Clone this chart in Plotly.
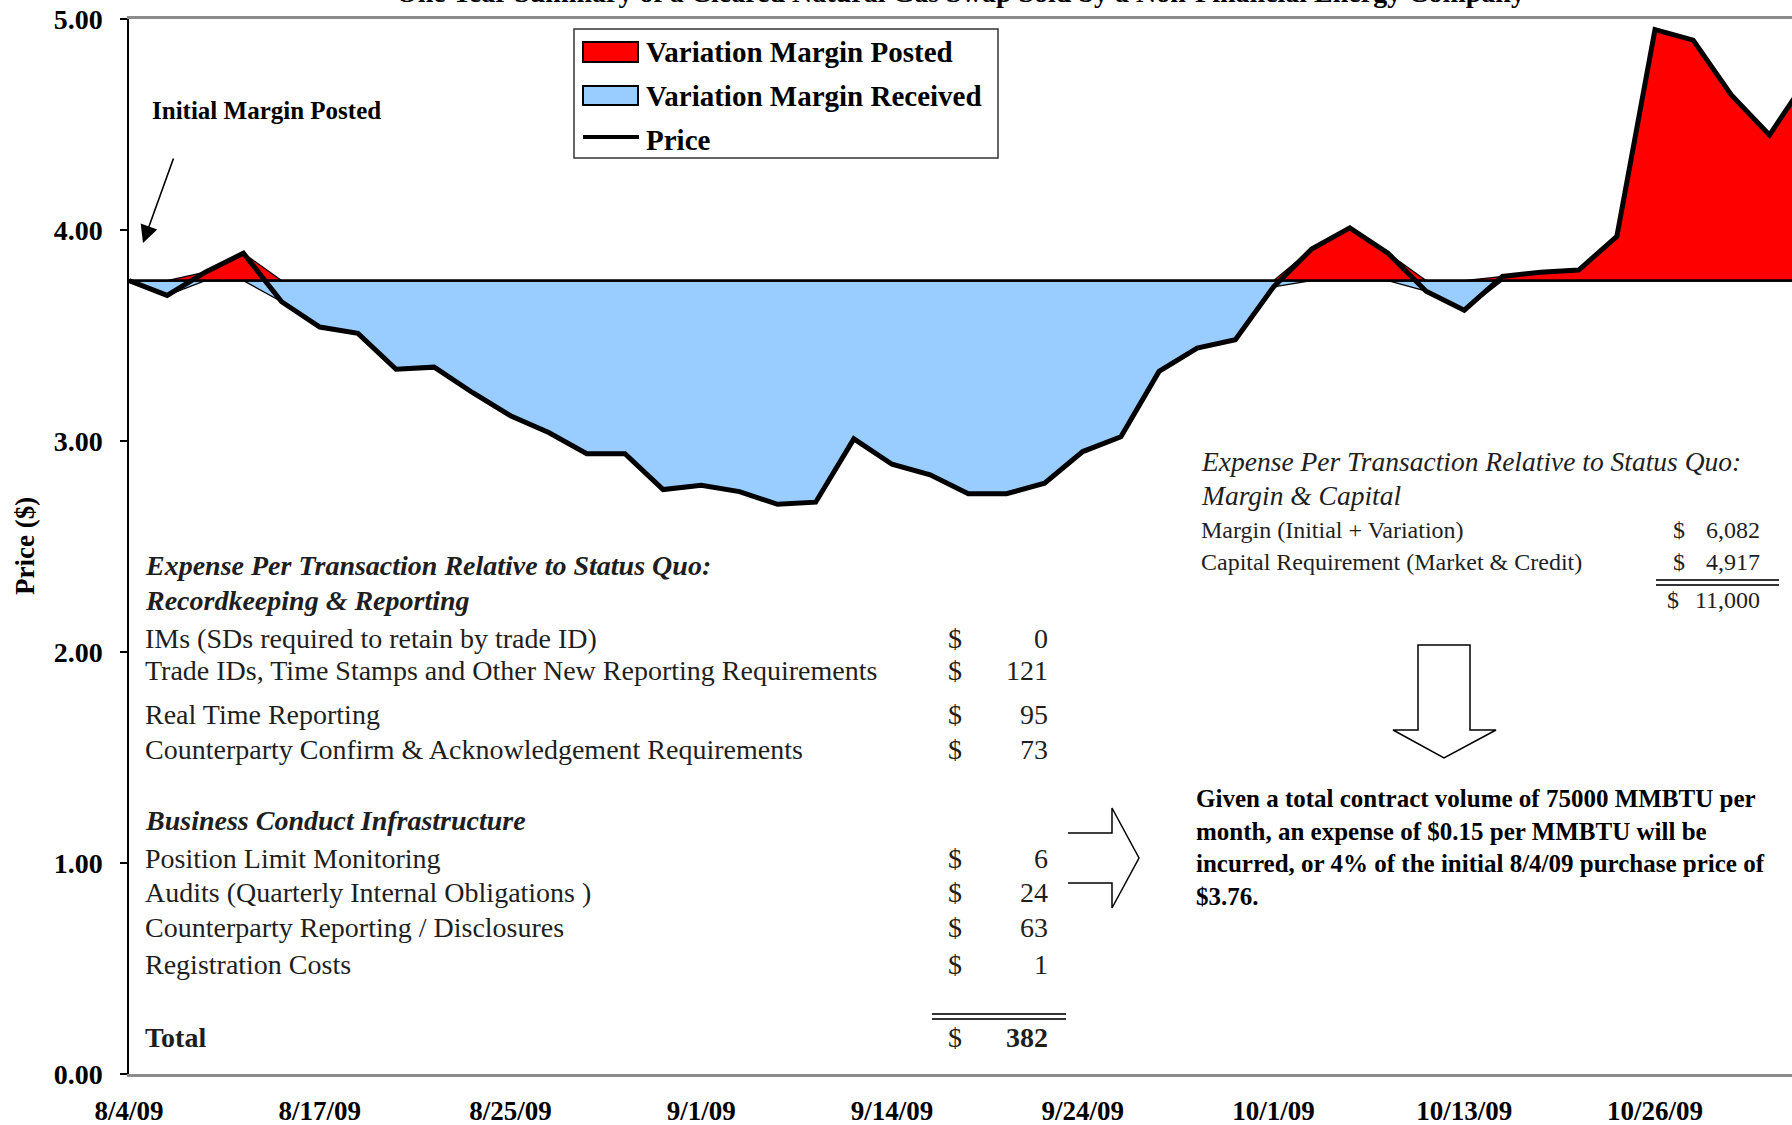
import plotly.graph_objects as go

# ---------------- data ----------------
tick_dates = ["8/4/09", "8/17/09", "8/25/09", "9/1/09", "9/14/09",
              "9/24/09", "10/1/09", "10/13/09", "10/26/09"]
price = [3.76, 3.69, 3.80, 3.89, 3.66, 3.54, 3.51, 3.34, 3.35, 3.23,
         3.12, 3.04, 2.94, 2.94, 2.77, 2.79, 2.76, 2.70, 2.71, 3.01,
         2.89, 2.84, 2.75, 2.75, 2.80, 2.95, 3.02, 3.33, 3.44, 3.48,
         3.73, 3.91, 4.01, 3.89, 3.71, 3.62, 3.78, 3.80, 3.81, 3.97,
         4.95, 4.90, 4.64, 4.45, 4.72]
initial_price = 3.76
y_ticks = [0, 1, 2, 3, 4, 5]
label_every = 5

rk_items = ["IMs (SDs required to retain by trade ID)",
            "Trade IDs, Time Stamps and Other New Reporting Requirements",
            "Real Time Reporting",
            "Counterparty Confirm & Acknowledgement Requirements"]
rk_values = [0, 121, 95, 73]
bc_items = ["Position Limit Monitoring",
            "Audits (Quarterly Internal Obligations )",
            "Counterparty Reporting / Disclosures",
            "Registration Costs"]
bc_values = [6, 24, 63, 1]
rr_total = 382
mc_items = ["Margin (Initial + Variation)",
            "Capital Requirement (Market & Credit)"]
mc_values = [6082, 4917]
mc_total = 11000

title_text = "One Year Summary of a Cleared Natural Gas Swap Sold by a Non-Financial Energy Company"
note_text = ("Given a total contract volume of 75000 MMBTU per<br>"
             "month, an expense of $0.15 per MMBTU will be<br>"
             "incurred, or 4% of the initial 8/4/09 purchase price of<br>"
             "$3.76.")

# ---------------- geometry helpers ----------------
W, H = 1792, 1125
L, R, T, B = 129, 1792, 19, 1074


def px(x):
    return (x - L) / (R - L)


def py(y):
    return (B - y) / (B - T)


SERIF = "Liberation Serif"
RED = "#FF0000"
BLUE = "#99CCFF"

n = len(price)
xs = list(range(n))
low = [min(p, initial_price) for p in price]
mid = [initial_price] * n
high = [max(p, initial_price) for p in price]

fig = go.Figure()
# stacked-area style fills (Excel look)
fig.add_trace(go.Scatter(x=xs, y=low, mode="lines",
                         line=dict(color="black", width=1.3),
                         showlegend=False, hoverinfo="skip"))
fig.add_trace(go.Scatter(x=xs, y=mid, mode="lines", fill="tonexty",
                         fillcolor=BLUE, line=dict(color="black", width=2.2),
                         name="Variation Margin Received", showlegend=False))
fig.add_trace(go.Scatter(x=xs, y=high, mode="lines", fill="tonexty",
                         fillcolor=RED, line=dict(color="black", width=1.3),
                         name="Variation Margin Posted", showlegend=False))
fig.add_trace(go.Scatter(x=xs, y=mid, mode="lines",
                         line=dict(color="black", width=2.2),
                         showlegend=False, hoverinfo="skip"))
fig.add_trace(go.Scatter(x=xs, y=price, mode="lines",
                         line=dict(color="black", width=5),
                         name="Price", showlegend=False))

x_right = (R - L) / 38.15

fig.update_layout(
    template="none",
    width=W, height=H,
    margin=dict(l=L, r=W - R, t=T, b=H - B, pad=0, autoexpand=False),
    paper_bgcolor="white", plot_bgcolor="white",
    showlegend=False,
    font=dict(family=SERIF, color="black"),
    xaxis=dict(range=[0, x_right], showgrid=False, zeroline=False,
               automargin=False,
               showline=True, linecolor="#8c8c8c", linewidth=3, mirror=True,
               tickmode="array",
               tickvals=[i * label_every for i in range(len(tick_dates))],
               ticktext=tick_dates, ticks="",
               tickfont=dict(family=SERIF, size=27, weight="bold", color="black"),
               ticklabelstandoff=11),
    yaxis=dict(range=[0, 5], showgrid=False, zeroline=False,
               automargin=False,
               showline=True, linecolor="black", linewidth=1.5,
               tickmode="array", tickvals=y_ticks,
               ticktext=[f"{v:.2f}" for v in y_ticks],
               ticks="outside", ticklen=7, tickcolor="black", tickwidth=1.5,
               tickfont=dict(family=SERIF, size=28, weight="bold", color="black"),
               ticklabelstandoff=12),
)

ann = []
shapes = []


def text(x, y, s, size, xanchor="left", weight="normal", style="normal",
         color="black", yanchor="middle", align="left"):
    ann.append(dict(x=px(x), y=py(y), xref="paper", yref="paper", text=s,
                    showarrow=False, xanchor=xanchor, yanchor=yanchor,
                    align=align,
                    font=dict(family=SERIF, size=size, weight=weight,
                              style=style, color=color)))


# title (mostly cut off at top of page, as in the source image)
text(960, 10, title_text, 28, xanchor="center", weight="bold", yanchor="bottom")

# y axis title
ann.append(dict(x=px(25), y=py(546), xref="paper", yref="paper",
                text="Price ($)", textangle=-90, showarrow=False,
                xanchor="center", yanchor="middle",
                font=dict(family=SERIF, size=27, weight="bold", color="black")))

# initial margin label + arrow
text(150, 110, "Initial Margin Posted", 25, weight="bold")
ann.append(dict(x=px(143), y=py(243), xref="paper", yref="paper", text="",
                showarrow=True, ax=31, ay=-86, axref="pixel", ayref="pixel",
                arrowhead=2, arrowsize=2.2, arrowwidth=1.6, arrowcolor="black"))

# legend (manual)
shapes.append(dict(type="rect", xref="paper", yref="paper",
                   x0=px(574), x1=px(998), y0=py(29), y1=py(158),
                   line=dict(color="#333333", width=1.5), fillcolor="white"))
shapes.append(dict(type="rect", xref="paper", yref="paper",
                   x0=px(583), x1=px(638), y0=py(42), y1=py(62),
                   line=dict(color="black", width=2), fillcolor=RED))
shapes.append(dict(type="rect", xref="paper", yref="paper",
                   x0=px(583), x1=px(638), y0=py(86), y1=py(105),
                   line=dict(color="black", width=2), fillcolor=BLUE))
shapes.append(dict(type="line", xref="paper", yref="paper",
                   x0=px(583), x1=px(639), y0=py(137), y1=py(137),
                   line=dict(color="black", width=4)))
text(644, 52, "Variation Margin Posted", 29, weight="bold")
text(644, 96, "Variation Margin Received", 29, weight="bold")
text(644, 140, "Price", 29, weight="bold")

# left table
TC = "#1e1e1e"
text(143, 565, "Expense Per Transaction Relative to Status Quo:", 28,
     weight="bold", style="italic", color=TC)
text(143, 600, "Recordkeeping & Reporting", 28, weight="bold", style="italic", color=TC)
rk_rows = [638, 671, 714, 750]
for yy, item, v in zip(rk_rows, rk_items, rk_values):
    text(143, yy, item, 28, color=TC)
    text(955, yy, "$", 28, xanchor="center", color=TC)
    text(1050, yy, f"{v:,}", 28, xanchor="right", color=TC)
text(143, 820, "Business Conduct Infrastructure", 28, weight="bold", style="italic", color=TC)
bc_rows = [858, 892, 927, 964]
for yy, item, v in zip(bc_rows, bc_items, bc_values):
    text(143, yy, item, 28, color=TC)
    text(955, yy, "$", 28, xanchor="center", color=TC)
    text(1050, yy, f"{v:,}", 28, xanchor="right", color=TC)
for yy in (1014, 1019):
    shapes.append(dict(type="line", xref="paper", yref="paper",
                       x0=px(932), x1=px(1066), y0=py(yy), y1=py(yy),
                       line=dict(color="#333333", width=2)))
text(143, 1037, "Total", 28, weight="bold", color=TC)
text(955, 1037, "$", 28, xanchor="center", color=TC)
text(1050, 1037, f"{rr_total:,}", 28, xanchor="right", weight="bold", color=TC)

# right table
text(1199, 461, "Expense Per Transaction Relative to Status Quo:", 27.5,
     style="italic", color=TC)
text(1199, 495, "Margin & Capital", 27.5, style="italic", color=TC)
for yy, item, v in zip([530, 562], mc_items, mc_values):
    text(1199, yy, item, 24, color=TC)
    text(1679, yy, "$", 24, xanchor="center", color=TC)
    text(1762, yy, f"{v:,}", 24, xanchor="right", color=TC)
for yy in (580, 585):
    shapes.append(dict(type="line", xref="paper", yref="paper",
                       x0=px(1656), x1=px(1779), y0=py(yy), y1=py(yy),
                       line=dict(color="#333333", width=2)))
text(1673, 600, "$", 24, xanchor="center", color=TC)
text(1762, 600, f"{mc_total:,}", 24, xanchor="right", color=TC)

# down block arrow
pts = [(1418, 645), (1470, 645), (1470, 730), (1496, 730), (1444, 758),
       (1393, 730), (1418, 730)]
path = "M " + " L ".join(f"{px(a):.5f},{py(b):.5f}" for a, b in pts) + " Z"
shapes.append(dict(type="path", xref="paper", yref="paper", path=path,
                   line=dict(color="black", width=1.5), fillcolor="white"))

# right block arrow (open at left)
pts2 = [(1068, 833), (1112, 833), (1112, 808), (1139, 858), (1112, 908),
        (1112, 883), (1068, 883)]
path2 = "M " + " L ".join(f"{px(a):.5f},{py(b):.5f}" for a, b in pts2)
shapes.append(dict(type="path", xref="paper", yref="paper", path=path2,
                   line=dict(color="black", width=1.5)))

# note paragraph
ann.append(dict(x=px(1194), y=py(783), xref="paper", yref="paper",
                text=note_text, showarrow=False, xanchor="left", yanchor="top",
                align="left",
                font=dict(family=SERIF, size=25, weight="bold", color="black")))

fig.update_layout(annotations=ann, shapes=shapes)
fig.write_html("out.html",
               config={"displayModeBar": False},
               post_script="document.body.style.margin='0px';"
                           "document.body.style.overflow='hidden';")
